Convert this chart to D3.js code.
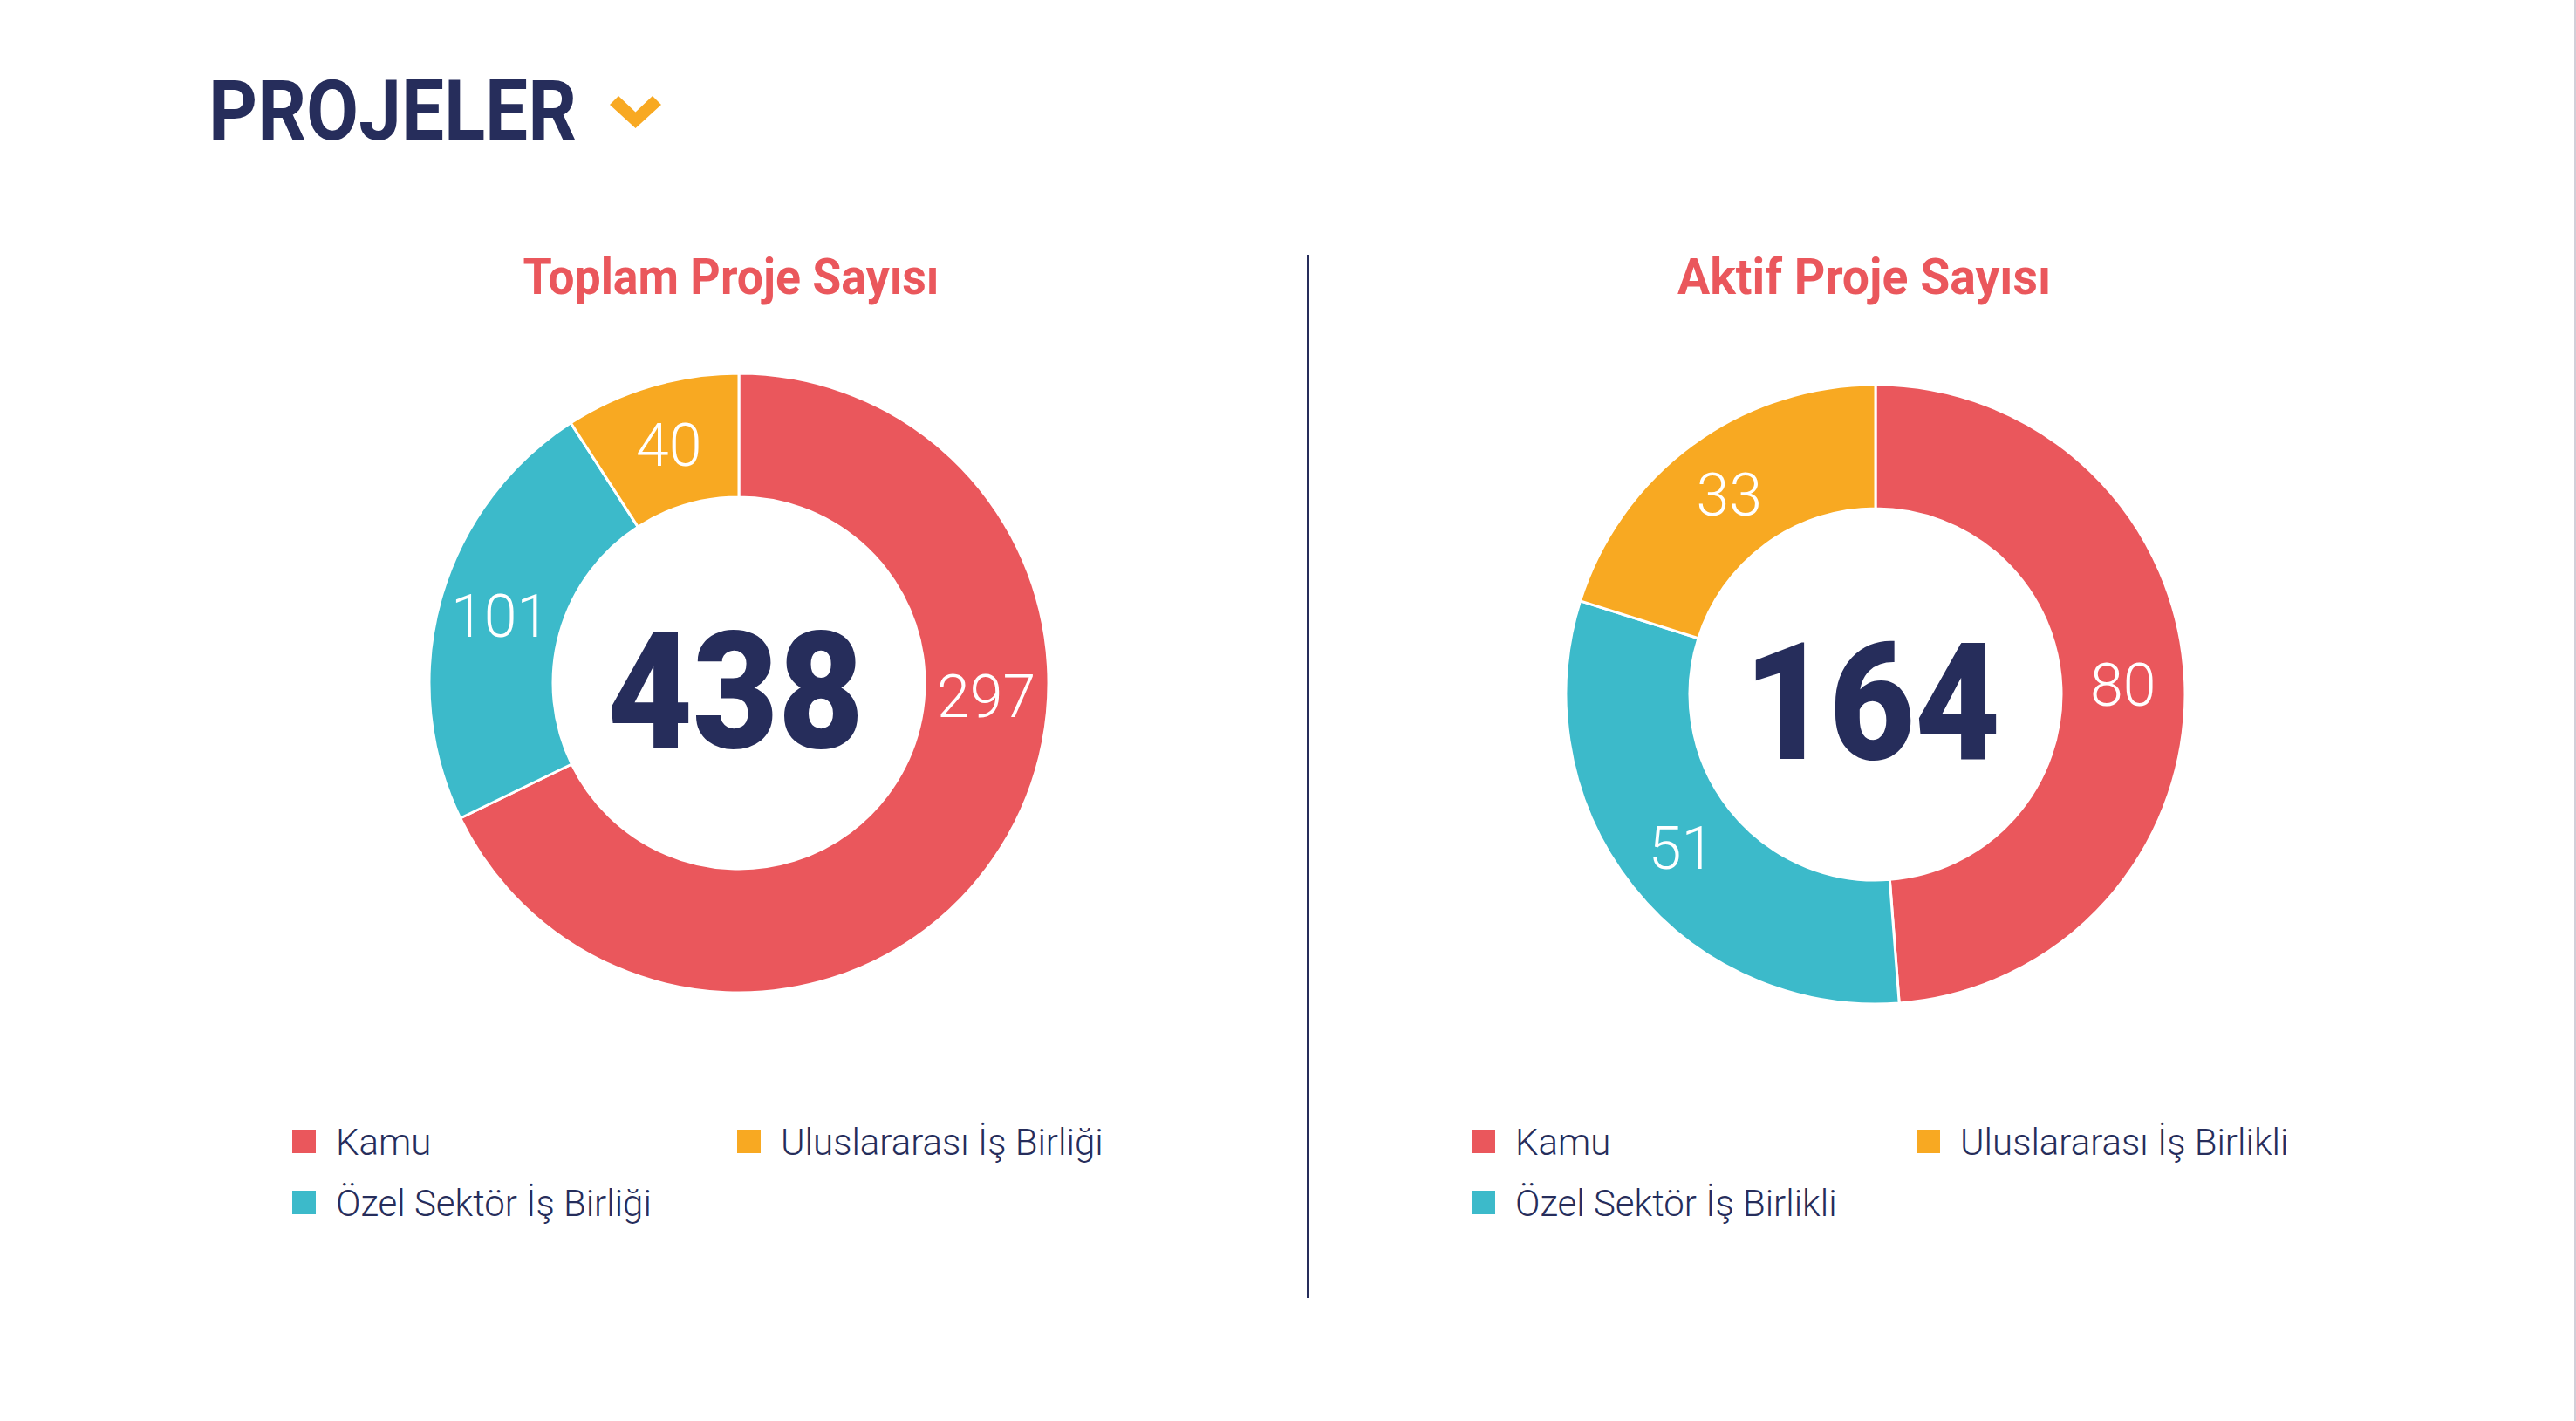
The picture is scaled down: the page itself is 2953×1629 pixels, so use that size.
<!DOCTYPE html>
<html>
<head>
<meta charset="utf-8">
<script src="https://cdn.jsdelivr.net/npm/d3@7/dist/d3.min.js"></script>
<style>
  html, body { margin: 0; padding: 0; background: #ffffff; }
  svg { display: block; }
</style>
</head>
<body>
<svg id="chart" width="2953" height="1629"></svg>
<script>
// ---- data ----
const pageTitle = "PROJELER";
const chartTitles = ["Toplam Proje Sayısı", "Aktif Proje Sayısı"];
const categoriesTotal = ["Kamu", "Özel Sektör İş Birliği", "Uluslararası İş Birliği"];
const categoriesActive = ["Kamu", "Özel Sektör İş Birlikli", "Uluslararası İş Birlikli"];
const valuesTotal = [297, 101, 40];
const valuesActive = [80, 51, 33];
const totals = [438, 164];

// ---- style ----
const NAVY = "#262D5B";
const RED = "#EA575C";
const TEAL = "#3CBACA";
const ORANGE = "#F8A922";
const colors = [RED, TEAL, ORANGE];

const svg = d3.select("#chart");
const W = 2953, H = 1629;

svg.append("rect").attr("width", W).attr("height", H).attr("fill", "#ffffff");
// faint right edge
svg.append("line").attr("x1", W - 1).attr("x2", W - 1).attr("y1", 0).attr("y2", H)
  .attr("stroke", "#D2CFD8").attr("stroke-width", 2);

// page title
svg.append("text")
  .attr("x", 239).attr("y", 160)
  .attr("font-family", "Roboto, 'Liberation Sans', sans-serif")
  .attr("font-weight", 700)
  .attr("font-size", 96)
  .attr("fill", NAVY)
  .attr("textLength", 422)
  .attr("lengthAdjust", "spacingAndGlyphs")
  .text(pageTitle);

// chevron
const chev = [[699, 120], [709, 110], [728.5, 128.5], [748, 110], [758, 120], [728.5, 147]];
svg.append("path")
  .attr("d", d3.line()(chev) + "Z")
  .attr("fill", ORANGE);

// divider
svg.append("line")
  .attr("x1", 1499.5).attr("x2", 1499.5).attr("y1", 292).attr("y2", 1488)
  .attr("stroke", NAVY).attr("stroke-width", 3);

const charts = [
  { title: chartTitles[0], cats: categoriesTotal, vals: valuesTotal, total: totals[0],
    cx: 847, cy: 783, titleX: 838, titleW: 477, legX: 335 },
  { title: chartTitles[1], cats: categoriesActive, vals: valuesActive, total: totals[1],
    cx: 2150, cy: 796, titleX: 2137, titleW: 428, legX: 1687 }
];

const rOuter = 355, rInner = 213;
const pie = d3.pie().sort(null).value(d => d.v).startAngle(0).endAngle(2 * Math.PI);
const arc = d3.arc().innerRadius(rInner).outerRadius(rOuter);
const color = d3.scaleOrdinal().domain([0, 1, 2]).range(colors);

charts.forEach(c => {
  // title
  svg.append("text")
    .attr("x", c.titleX).attr("y", 337)
    .attr("text-anchor", "middle")
    .attr("font-family", "Roboto, 'Liberation Sans', sans-serif")
    .attr("font-weight", 700)
    .attr("font-size", 57)
    .attr("fill", RED)
    .attr("textLength", c.titleW)
    .attr("lengthAdjust", "spacingAndGlyphs")
    .text(c.title);

  const data = c.vals.map((v, i) => ({ v, i, name: c.cats[i] }));
  const arcs = pie(data);
  const g = svg.append("g").attr("transform", `translate(${c.cx},${c.cy})`);

  g.selectAll("path.slice").data(arcs).enter().append("path")
    .attr("class", "slice")
    .attr("d", arc)
    .attr("fill", d => color(d.data.i))
    .attr("stroke", "#ffffff")
    .attr("stroke-width", 3)
    .attr("stroke-linejoin", "round");

  // value labels
  const rMid = (rInner + rOuter) / 2;
  g.selectAll("text.val").data(arcs).enter().append("text")
    .attr("class", "val")
    .each(function (d) {
      const mid = (d.startAngle + d.endAngle) / 2;
      const a = Math.min(mid, d.startAngle + Math.PI * 0.517);
      const x = Math.sin(a) * rMid;
      const y = -Math.cos(a) * rMid;
      d3.select(this).attr("x", x).attr("y", y).attr("dy", "0.35em");
    })
    .attr("text-anchor", "middle")
    .attr("font-family", "Roboto, 'Liberation Sans', sans-serif")
    .attr("font-weight", 300)
    .attr("font-size", 68)
    .attr("fill", "#ffffff")
    .text(d => d.data.v);

  // center total
  const t = g.append("text")
    .attr("x", -4).attr("y", 74)
    .attr("text-anchor", "middle")
    .attr("font-family", "Roboto, 'Liberation Sans', sans-serif")
    .attr("font-weight", 900)
    .attr("font-size", 188)
    .attr("fill", NAVY)
    .text(c.total);
  const nat = t.node().getComputedTextLength();
  t.attr("textLength", nat * 0.9).attr("lengthAdjust", "spacingAndGlyphs");

  // legend (column-major, 2 rows)
  const leg = svg.append("g").attr("transform", `translate(${c.legX},1295)`);
  const items = leg.selectAll("g.item").data(data).enter().append("g")
    .attr("class", "item")
    .attr("transform", (d, k) => `translate(${Math.floor(k / 2) * 510},${(k % 2) * 70})`);
  items.append("rect").attr("width", 27).attr("height", 27).attr("fill", d => color(d.i));
  items.append("text")
    .attr("x", 50).attr("y", 29)
    .attr("font-family", "Roboto, 'Liberation Sans', sans-serif")
    .attr("font-weight", 300)
    .attr("font-size", 42)
    .attr("fill", NAVY)
    .text(d => d.name);
});
</script>
</body>
</html>
